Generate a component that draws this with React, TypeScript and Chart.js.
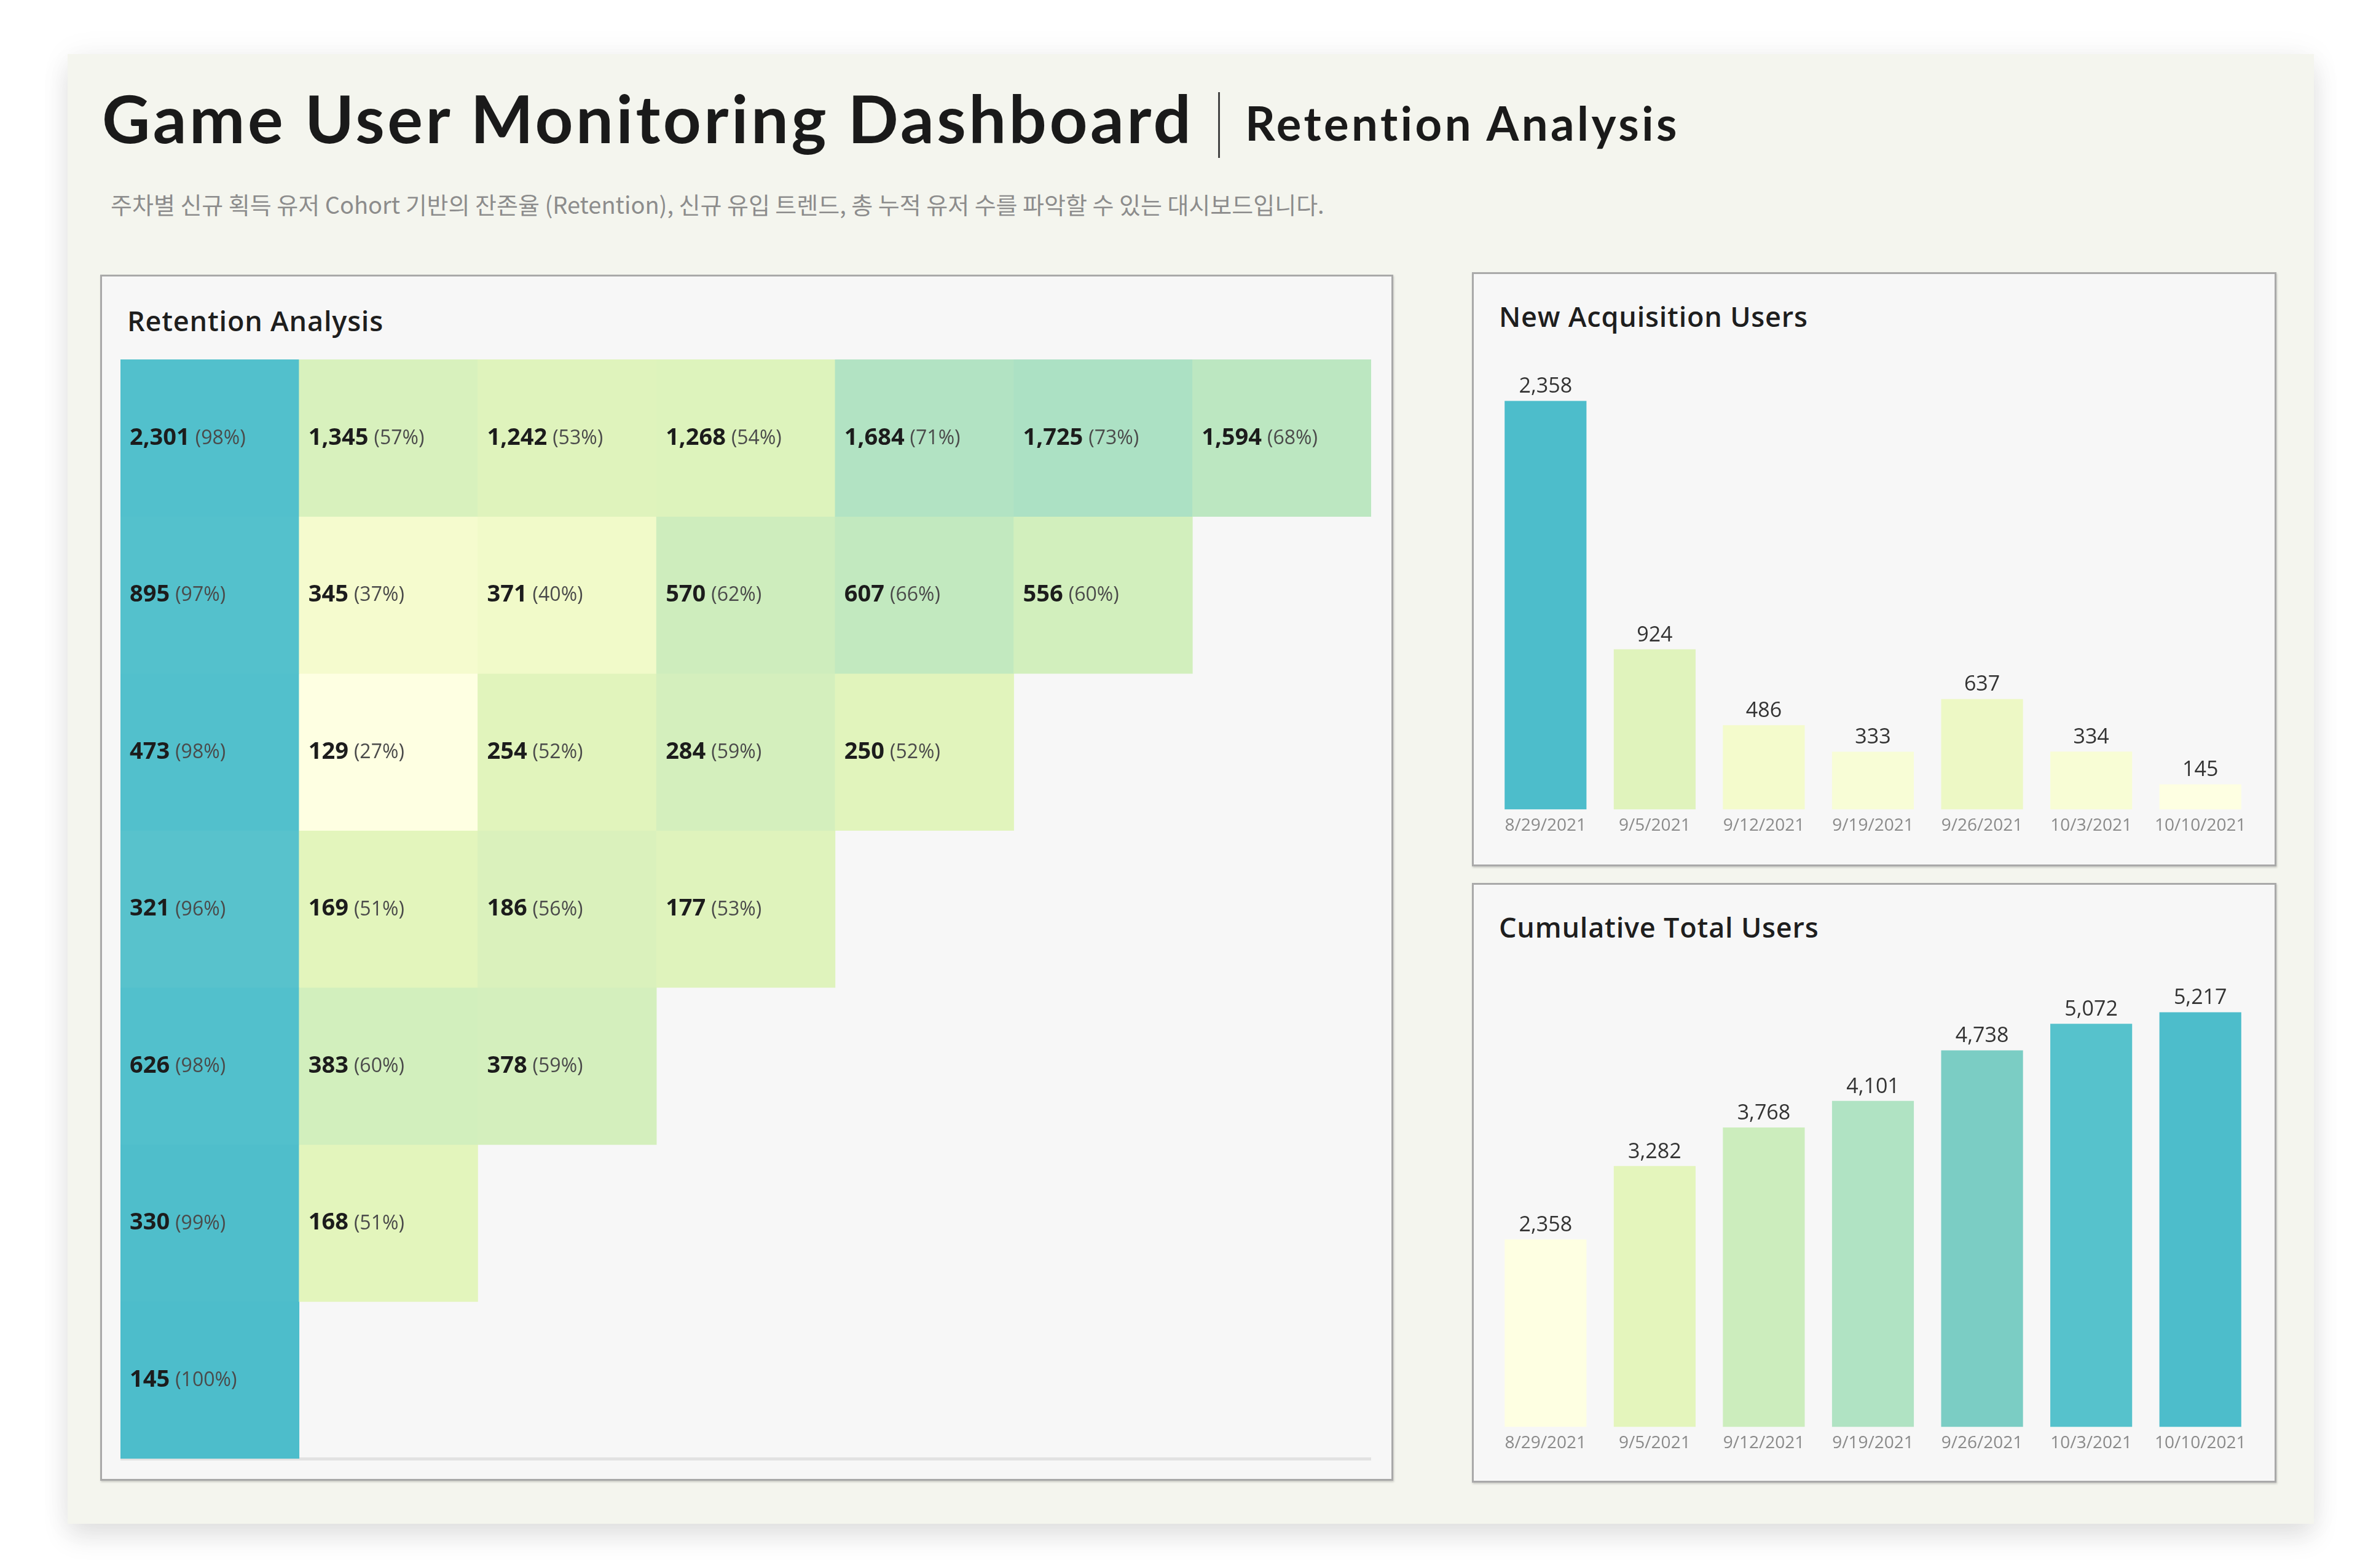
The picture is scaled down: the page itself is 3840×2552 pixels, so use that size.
import React, { useEffect, useRef } from "react";
import { Chart, registerables } from "chart.js";

Chart.register(...registerables);

// ---------- data ----------
const weekLabels = ["8/29/2021", "9/5/2021", "9/12/2021", "9/19/2021", "9/26/2021", "10/3/2021", "10/10/2021"];
const newUsers = [2358, 924, 486, 333, 637, 334, 145];
const cumulativeUsers = [2358, 3282, 3768, 4101, 4738, 5072, 5217];
const retentionWeeks = ["Week 0", "Week 1", "Week 2", "Week 3", "Week 4", "Week 5", "Week 6"];
const retentionCounts = [
  [2301, 1345, 1242, 1268, 1684, 1725, 1594],
  [895, 345, 371, 570, 607, 556],
  [473, 129, 254, 284, 250],
  [321, 169, 186, 177],
  [626, 383, 378],
  [330, 168],
  [145],
];
const retentionPct = [
  [98, 57, 53, 54, 71, 73, 68],
  [97, 37, 40, 62, 66, 60],
  [98, 27, 52, 59, 52],
  [96, 51, 56, 53],
  [98, 60, 59],
  [99, 51],
  [100],
];

// ---------- colour scale ----------
const COLOR_STOPS: [number, string][] = [
  [0, "#feffe2"],
  [0.15, "#f4fbcc"],
  [0.32, "#e4f5bc"],
  [0.49, "#cdedbd"],
  [0.62, "#aee2c4"],
  [0.83, "#7ccdc4"],
  [0.95, "#56c2cc"],
  [1, "#4dbdcb"],
];
function hexToRgb(h: string) {
  const n = parseInt(h.slice(1), 16);
  return [(n >> 16) & 255, (n >> 8) & 255, n & 255];
}
function scaleColor(t: number) {
  const v = Math.max(0, Math.min(1, t));
  for (let i = 0; i < COLOR_STOPS.length - 1; i++) {
    const [t0, c0] = COLOR_STOPS[i];
    const [t1, c1] = COLOR_STOPS[i + 1];
    if (v >= t0 && v <= t1) {
      const f = (v - t0) / (t1 - t0);
      const a = hexToRgb(c0);
      const b = hexToRgb(c1);
      const m = a.map((x, k) => Math.round(x + (b[k] - x) * f));
      return `rgb(${m[0]},${m[1]},${m[2]})`;
    }
  }
  return COLOR_STOPS[COLOR_STOPS.length - 1][1];
}

const FONT = '"Open Sans", "Noto Sans", sans-serif';

// ---------- plugins ----------
const heatLabels = {
  id: "heatLabels",
  afterDatasetsDraw(chart: any) {
    const ctx = chart.ctx;
    chart.data.datasets.forEach((_ds: any, r: number) => {
      const meta = chart.getDatasetMeta(r);
      meta.data.forEach((el: any, c: number) => {
        if (c >= retentionCounts[r].length) return;
        const left = el.x - el.width / 2;
        const cy = (el.y + el.base) / 2;
        ctx.save();
        ctx.textBaseline = "middle";
        ctx.textAlign = "left";
        ctx.font = `bold 38px ${FONT}`;
        ctx.fillStyle = "#1c1c1c";
        const num = retentionCounts[r][c].toLocaleString("en-US");
        ctx.fillText(num, left + 15, cy);
        const w = ctx.measureText(num).width;
        ctx.font = `32px ${FONT}`;
        ctx.fillStyle = "#4a4a4a";
        ctx.fillText(`(${retentionPct[r][c]}%)`, left + 15 + w + 9, cy + 1);
        ctx.restore();
      });
    });
  },
};

const valueLabels = {
  id: "valueLabels",
  afterDatasetsDraw(chart: any) {
    const ctx = chart.ctx;
    const meta = chart.getDatasetMeta(0);
    const values = chart.data.datasets[0].data;
    ctx.save();
    ctx.font = `34px ${FONT}`;
    ctx.fillStyle = "#333333";
    ctx.textAlign = "center";
    ctx.textBaseline = "bottom";
    meta.data.forEach((el: any, i: number) => {
      ctx.fillText(Number(values[i]).toLocaleString("en-US"), el.x, el.y - 6);
    });
    ctx.restore();
  },
};

// ---------- configs ----------
function heatmapConfig(): any {
  const allPct = retentionPct.flat();
  const pMin = Math.min(...allPct);
  const pMax = Math.max(...allPct);
  const datasets = retentionCounts.map((row, r) => ({
    label: weekLabels[r],
    data: retentionWeeks.map((_, c) => (c < row.length ? [r, r + 1] : null)),
    backgroundColor: retentionWeeks.map((_, c) =>
      c < row.length ? scaleColor((retentionPct[r][c] - pMin) / (pMax - pMin)) : "rgba(0,0,0,0)"
    ),
    borderWidth: 0,
    grouped: false,
    barPercentage: 1,
    categoryPercentage: 1,
  }));
  return {
    type: "bar",
    data: { labels: retentionWeeks, datasets },
    options: {
      responsive: true,
      maintainAspectRatio: false,
      animation: false,
      events: [],
      layout: { padding: { bottom: 3 } },
      plugins: { legend: { display: false }, tooltip: { enabled: false } },
      scales: {
        x: {
          grid: { display: false, drawTicks: false },
          ticks: { display: false },
          border: { display: true, color: "#e2e2e2", width: 5 },
        },
        y: { type: "linear", display: false, min: 0, max: retentionCounts.length, reverse: true },
      },
    },
    plugins: [heatLabels],
  };
}

function barConfig(values: number[]): any {
  const min = Math.min(...values);
  const max = Math.max(...values);
  return {
    type: "bar",
    data: {
      labels: weekLabels,
      datasets: [
        {
          data: values,
          backgroundColor: values.map((v) => scaleColor((v - min) / (max - min))),
          borderWidth: 0,
          barPercentage: 0.75,
          categoryPercentage: 1,
        },
      ],
    },
    options: {
      responsive: true,
      maintainAspectRatio: false,
      animation: false,
      events: [],
      layout: { padding: 0 },
      plugins: { legend: { display: false }, tooltip: { enabled: false } },
      scales: {
        x: {
          grid: { display: false, drawTicks: false },
          border: { display: false },
          ticks: {
            color: "#8a8a8a",
            font: { family: FONT, size: 28 },
            padding: 10,
            maxRotation: 0,
            autoSkip: false,
          },
        },
        y: { display: false, min: 0, max: max * 1.1 },
      },
    },
    plugins: [valueLabels],
  };
}

// ---------- components ----------
function ChartBox({ style, makeConfig }: { style: React.CSSProperties; makeConfig: () => any }) {
  const ref = useRef<HTMLCanvasElement>(null);
  useEffect(() => {
    const chart = new Chart(ref.current as HTMLCanvasElement, makeConfig());
    return () => chart.destroy();
  }, []);
  return (
    <div style={{ position: "absolute", ...style }}>
      <canvas ref={ref} />
    </div>
  );
}

const panelStyle: React.CSSProperties = {
  position: "absolute",
  boxSizing: "border-box",
  background: "#f7f7f7",
  border: "3px solid #a9a9a9",
  boxShadow: "1px 2px 3px rgba(0,0,0,0.18)",
};

const panelTitle: React.CSSProperties = {
  position: "absolute",
  fontFamily: FONT,
  fontWeight: 600,
  fontSize: 45,
  lineHeight: "45px",
  letterSpacing: "0.8px",
  color: "#1e1e1e",
  whiteSpace: "nowrap",
};

export default function App() {
  return (
    <div
      style={{
        position: "absolute",
        left: 0,
        top: 0,
        width: 3840,
        height: 2552,
        background: "#ffffff",
        overflow: "hidden",
      }}
    >
      {/* outer card */}
      <div
        style={{
          position: "absolute",
          left: 110,
          top: 88,
          width: 3655,
          height: 2392,
          background: "#f4f5ee",
          boxShadow: "0 22px 40px rgba(0,0,0,0.10), 0 0 50px rgba(0,0,0,0.05)",
        }}
      />
      {/* header */}
      <div
        style={{
          position: "absolute",
          left: 166,
          top: 137,
          fontFamily: "Lato, sans-serif",
          fontWeight: 700,
          fontSize: 108,
          lineHeight: "108px",
          letterSpacing: "4.5px",
          color: "#1a1a1a",
          whiteSpace: "nowrap",
        }}
      >
        Game User Monitoring Dashboard
      </div>
      <div style={{ position: "absolute", left: 1982, top: 150, width: 3, height: 107, background: "#444" }} />
      <div
        style={{
          position: "absolute",
          left: 2026,
          top: 162,
          fontFamily: "Lato, sans-serif",
          fontWeight: 700,
          fontSize: 76,
          lineHeight: "76px",
          letterSpacing: "4.5px",
          color: "#1a1a1a",
          whiteSpace: "nowrap",
        }}
      >
        Retention Analysis
      </div>
      <div
        style={{
          position: "absolute",
          left: 180,
          top: 313,
          fontFamily: '"Noto Sans CJK KR", sans-serif',
          fontSize: 38,
          lineHeight: "38px",
          color: "#8c8c8c",
          whiteSpace: "nowrap",
        }}
      >
        주차별 신규 획득 유저 Cohort 기반의 잔존율 (Retention), 신규 유입 트렌드, 총 누적 유저 수를 파악할 수 있는 대시보드입니다.
      </div>

      {/* left panel */}
      <div style={{ ...panelStyle, left: 163, top: 447, width: 2104, height: 1963 }} />
      <div style={{ ...panelTitle, left: 207, top: 499 }}>Retention Analysis</div>
      <ChartBox style={{ left: 196, top: 585, width: 2035, height: 1792 }} makeConfig={heatmapConfig} />

      {/* right top panel */}
      <div style={{ ...panelStyle, left: 2395, top: 443, width: 1309, height: 967 }} />
      <div style={{ ...panelTitle, left: 2439, top: 492 }}>New Acquisition Users</div>
      <ChartBox style={{ left: 2426, top: 586, width: 1243, height: 785 }} makeConfig={() => barConfig(newUsers)} />

      {/* right bottom panel */}
      <div style={{ ...panelStyle, left: 2395, top: 1437, width: 1309, height: 976 }} />
      <div style={{ ...panelTitle, left: 2439, top: 1486 }}>Cumulative Total Users</div>
      <ChartBox
        style={{ left: 2426, top: 1580, width: 1243, height: 796 }}
        makeConfig={() => barConfig(cumulativeUsers)}
      />
    </div>
  );
}
